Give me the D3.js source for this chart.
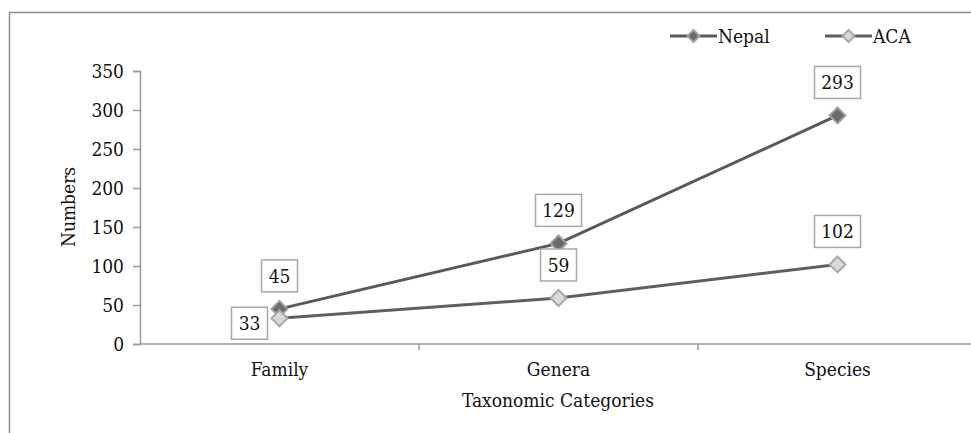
<!DOCTYPE html>
<html>
<head>
<meta charset="utf-8">
<script src="https://cdn.jsdelivr.net/npm/d3@7"></script>
<style>
  html, body { margin: 0; padding: 0; background: #fff; }
  svg text { font-stretch: semi-condensed; }
</style>
</head>
<body>
<svg id="chart" width="971" height="433"></svg>
<script>
// Taxonomic counts for Nepal and the Annapurna Conservation Area
const categories = ["Family", "Genera", "Species"];
const nepalValues = [45, 129, 293];
const acaValues = [33, 59, 102];
const yTicks = [0, 50, 100, 150, 200, 250, 300, 350];
const seriesNames = ["Nepal", "ACA"];

const FONT = "'DejaVu Serif Condensed', 'DejaVu Serif', serif";
const FS = 19;
const svg = d3.select("#chart");
const W = 971, H = 433;

// outer frame (top and left edges)
svg.append("path")
  .attr("d", `M9.5,${H} V12.5 H${W}`)
  .attr("fill", "none").attr("stroke", "#8c8c8c").attr("stroke-width", 1.5);

const x0 = 140, x1 = 977, yTop = 71, yBot = 344;
const x = d3.scaleBand().domain(categories).range([x0, x1]);
const y = d3.scaleLinear().domain([0, 350]).range([yBot, yTop]);

// y axis
const yAxis = svg.append("g").attr("transform", `translate(${x0},0)`)
  .call(d3.axisLeft(y).tickValues(yTicks).tickSize(7).tickPadding(9));
yAxis.attr("font-family", FONT);
yAxis.select(".domain").attr("stroke", "#9a9a9a").attr("stroke-width", 1.5);
yAxis.selectAll(".tick line").attr("stroke", "#9a9a9a").attr("stroke-width", 1.5);
yAxis.selectAll("text").attr("font-size", FS).attr("fill", "#111").attr("font-family", FONT);

// x axis with tick marks on category boundaries
const xAxis = svg.append("g").attr("transform", `translate(0,${yBot})`);
xAxis.append("line").attr("x1", x0).attr("x2", W).attr("y1", 0).attr("y2", 0)
  .attr("stroke", "#9a9a9a").attr("stroke-width", 1.5);
xAxis.selectAll("line.bt").data(categories.slice(1)).join("line").attr("class", "bt")
  .attr("x1", d => x(d)).attr("x2", d => x(d)).attr("y1", 0).attr("y2", 6)
  .attr("stroke", "#9a9a9a").attr("stroke-width", 1.5);
xAxis.selectAll("text").data(categories).join("text")
  .attr("x", d => x(d) + x.bandwidth() / 2).attr("y", 32)
  .attr("text-anchor", "middle").attr("font-size", FS).attr("fill", "#111")
  .attr("font-family", FONT).text(d => d);

// axis titles
svg.append("text").attr("transform", "translate(75,207) rotate(-90)")
  .attr("text-anchor", "middle").attr("font-size", FS).attr("fill", "#111")
  .attr("font-family", FONT).text("Numbers");
svg.append("text").attr("x", 558).attr("y", 407)
  .attr("text-anchor", "middle").attr("font-size", FS).attr("fill", "#111")
  .attr("font-family", FONT).text("Taxonomic Categories");

const cx = d => x(d) + x.bandwidth() / 2;
const series = [
  { name: seriesNames[0], values: nepalValues, line: "#595959", fill: "#6b6b6b", stroke: "#a0a0a0" },
  { name: seriesNames[1], values: acaValues, line: "#5f5f5f", fill: "#d9d9d9", stroke: "#a8a8a8" }
];

const line = d3.line().x((d, i) => cx(categories[i])).y(d => y(d));
const diamond = (px, py, r) => `M${px},${py - r} L${px + r},${py} L${px},${py + r} L${px - r},${py} Z`;

series.forEach(s => {
  svg.append("path").datum(s.values).attr("d", line)
    .attr("fill", "none").attr("stroke", s.line).attr("stroke-width", 3);
});
series.forEach(s => {
  svg.selectAll(null).data(s.values).join("path")
    .attr("d", (d, i) => diamond(cx(categories[i]), y(d), 8))
    .attr("fill", s.fill).attr("stroke", s.stroke).attr("stroke-width", 2);
});

// value labels in boxes
function label(val, px, py) {
  const g = svg.append("g").attr("transform", `translate(${px},${py})`);
  g.append("text").attr("text-anchor", "middle").attr("dy", "0.35em")
    .attr("font-size", FS).attr("fill", "#111").attr("font-family", FONT).text(val);
  const w = String(val).length * 10 + 16;
  g.insert("rect", "text").attr("x", -w / 2).attr("y", -16).attr("width", w).attr("height", 32)
    .attr("fill", "#fff").attr("stroke", "#a8a8a8").attr("stroke-width", 1.5);
}
nepalValues.forEach((v, i) => label(v, cx(categories[i]), y(v) - 33));
acaValues.forEach((v, i) => {
  if (i === 0) label(v, cx(categories[i]) - 30, y(v) + 5);
  else label(v, cx(categories[i]), y(v) - 33);
});

// legend
const legendItems = [
  { name: seriesNames[0], x: 670, s: series[0] },
  { name: seriesNames[1], x: 825, s: series[1] }
];
legendItems.forEach(it => {
  const g = svg.append("g").attr("transform", `translate(${it.x},36)`);
  g.append("line").attr("x1", 0).attr("x2", 47).attr("stroke", it.s.line).attr("stroke-width", 3);
  g.append("path").attr("d", diamond(23.5, 0, 6)).attr("fill", it.s.fill)
    .attr("stroke", it.s.stroke).attr("stroke-width", 2);
  g.append("text").attr("x", 48).attr("dy", "0.35em").attr("font-size", FS)
    .attr("fill", "#111").attr("font-family", FONT).text(it.name);
});
</script>
</body>
</html>
